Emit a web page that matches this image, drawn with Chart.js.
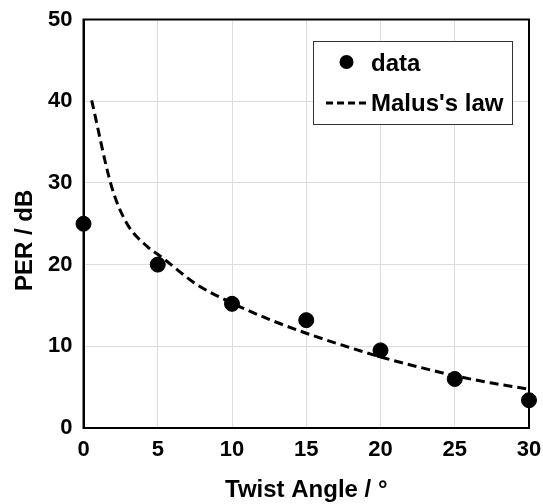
<!DOCTYPE html>
<html>
<head>
<meta charset="utf-8">
<script src="https://cdn.jsdelivr.net/npm/chart.js@4.4.0/dist/chart.umd.min.js"></script>
<style>
  html, body { margin: 0; padding: 0; background: #fff; }
  #wrap { width: 543px; height: 504px; }
</style>
</head>
<body>
<div id="wrap"><canvas id="chart" width="543" height="504"></canvas></div>
<script>
// measured twist angles and PER
const angles = [0, 5, 10, 15, 20, 25, 30];
const perValues = [25, 20, 15.2, 13.2, 9.5, 6.0, 3.4];

// Malus's law curve
const lawAngles = [0.55, 1.9, 2.9, 4.3, 5.2, 7.6, 10, 12.5, 15, 17.5, 20, 22.5, 25, 27.5, 30];
const lawValues = [40.1, 29.5, 25.1, 22.2, 21.0, 17.6, 15.3, 13.3, 11.6, 10.1, 8.7, 7.5, 6.4, 5.5, 4.76];

const xTicks = [0, 5, 10, 15, 20, 25, 30];
const yTicks = [0, 10, 20, 30, 40, 50];

const FONT = "'Liberation Sans', Arial, sans-serif";

// frame around the plot + legend box drawn inside the plot
const framePlugin = {
  id: "frame",
  afterDraw(chart) {
    const { ctx, chartArea } = chart;
    ctx.save();
    ctx.strokeStyle = "#000";
    ctx.lineWidth = 2;
    ctx.strokeRect(chartArea.left, chartArea.top, chartArea.right - chartArea.left, chartArea.bottom - chartArea.top);

    // legend
    ctx.fillStyle = "#fff";
    ctx.fillRect(313.5, 41.5, 199, 83);
    ctx.strokeStyle = "#333";
    ctx.lineWidth = 1;
    ctx.strokeRect(313.5, 41.5, 199, 83);

    ctx.fillStyle = "#000";
    ctx.beginPath();
    ctx.arc(346.5, 62, 7, 0, Math.PI * 2);
    ctx.fill();

    ctx.strokeStyle = "#000";
    ctx.lineWidth = 3;
    ctx.setLineDash([7, 4]);
    ctx.beginPath();
    ctx.moveTo(326, 103);
    ctx.lineTo(368, 103);
    ctx.stroke();
    ctx.setLineDash([]);

    ctx.font = "bold 24px " + FONT;
    ctx.textBaseline = "alphabetic";
    ctx.textAlign = "left";
    ctx.fillText("data", 371, 71);
    ctx.fillText("Malus's law", 371, 111);
    ctx.restore();
  }
};

new Chart(document.getElementById("chart"), {
  type: "scatter",
  data: {
    datasets: [
      {
        label: "data",
        data: angles.map((a, i) => ({ x: a, y: perValues[i] })),
        backgroundColor: "#000",
        borderColor: "#000",
        pointRadius: 7.5,
        pointHoverRadius: 7.5,
        clip: false,
        order: 1
      },
      {
        label: "Malus's law",
        type: "line",
        data: lawAngles.map((a, i) => ({ x: a, y: lawValues[i] })),
        borderColor: "#000",
        borderWidth: 3,
        borderDash: [9, 5],
        pointRadius: 0,
        fill: false,
        cubicInterpolationMode: "monotone",
        order: 2
      }
    ]
  },
  options: {
    responsive: false,
    animation: false,
    layout: { padding: { top: 19.5, right: 14, left: 0, bottom: 0 } },
    plugins: {
      legend: { display: false },
      tooltip: { enabled: false }
    },
    scales: {
      x: {
        type: "linear",
        min: 0,
        max: 30,
        afterBuildTicks(scale) { scale.ticks = xTicks.map(v => ({ value: v })); },
        afterFit(scale) {
          scale.height = 76;
          scale.paddingLeft = 0;
          scale.paddingRight = 0;
        },
        grid: { color: "#dddddd", lineWidth: 1, drawTicks: false },
        border: { color: "#000", width: 2 },
        ticks: { color: "#000", padding: 9, font: { family: FONT, size: 22, weight: "bold" } },
        title: {
          display: true,
          text: "Twist Angle / °",
          color: "#000",
          padding: { top: 0, bottom: 1.5 },
          font: { family: FONT, size: 24, weight: "bold", lineHeight: 1 }
        }
      },
      y: {
        min: 0,
        max: 50,
        afterBuildTicks(scale) { scale.ticks = yTicks.map(v => ({ value: v })); },
        afterFit(scale) {
          scale.width = 83.5;
          scale.paddingTop = 0;
          scale.paddingBottom = 0;
        },
        grid: { color: "#dddddd", lineWidth: 1, drawTicks: false },
        border: { color: "#000", width: 2 },
        ticks: { color: "#000", padding: 11, font: { family: FONT, size: 22, weight: "bold" } },
        title: {
          display: true,
          text: "PER / dB     ",
          color: "#000",
          padding: { top: 11, bottom: 0 },
          font: { family: FONT, size: 24, weight: "bold", lineHeight: 1.2 }
        }
      }
    }
  },
  plugins: [framePlugin]
});
</script>
</body>
</html>
